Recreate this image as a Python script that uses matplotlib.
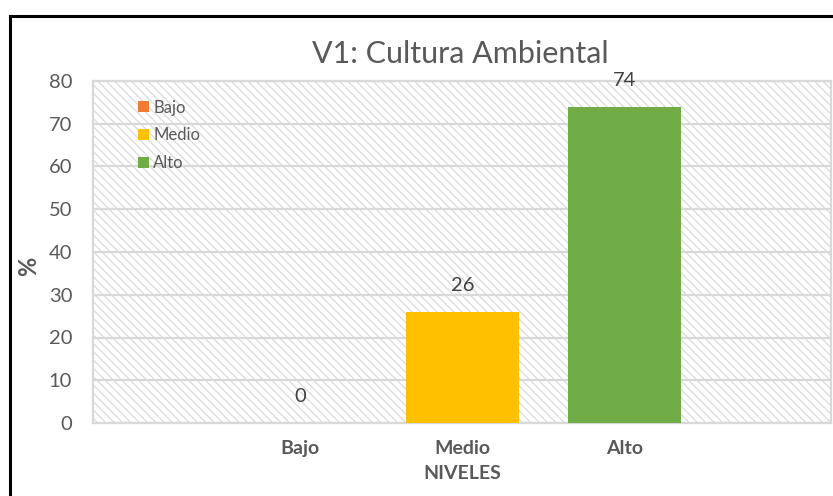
"""V1: Cultura Ambiental - bar chart by level."""

import matplotlib
matplotlib.use("Agg")
import matplotlib.pyplot as plt
from matplotlib.lines import Line2D
from matplotlib.patches import Rectangle

categories = ["Bajo", "Medio", "Alto"]
values = [0, 26, 74]
colors = ["#ED7D31", "#FFC000", "#70AD47"]
y_ticks = [0, 10, 20, 30, 40, 50, 60, 70, 80]

plt.rcParams["font.family"] = ["Lato", "DejaVu Sans"]
plt.rcParams["hatch.linewidth"] = 0.9
plt.rcParams["hatch.color"] = "#dadada"

W, H = 833, 496
fig = plt.figure(figsize=(W / 100, H / 100), dpi=100)
ax = fig.add_axes([93 / W, 1 - 423 / H, (831 - 93) / W, (423 - 81) / H])

# hatched plot background
bg = Rectangle((0, 0), 1, 1, transform=ax.transAxes, facecolor="white",
               edgecolor="#dadada", linewidth=0, hatch="\\\\\\\\", zorder=0)
ax.add_patch(bg)
ax.set_facecolor("white")

x = list(range(len(categories)))
bars = ax.bar(x, values, width=0.7, color=colors, zorder=3)
for b, lab in zip(bars, categories):
    b.set_label(lab)

ax.bar_label(bars, labels=[str(v) for v in values], padding=13,
             fontsize=14.5, color="#404040", zorder=4)

ax.set_xlim(-1.28, 3.275)
ax.set_ylim(0, 80)
ax.set_yticks(y_ticks)
ax.set_xticks(x)
ax.set_xticklabels(categories, fontweight="bold")
ax.tick_params(axis="y", length=0, pad=15, labelsize=14.5, labelcolor="#595959")
ax.tick_params(axis="x", length=0, pad=12, labelsize=14, labelcolor="#595959")

ax.grid(axis="y", color="#d9d9d9", linewidth=1.6, zorder=1)
ax.set_axisbelow(True)
for s in ax.spines.values():
    s.set_color("#d9d9d9")
    s.set_linewidth(1.6)

ax.set_xlabel("NIVELES", fontsize=14, fontweight="bold", color="#595959", labelpad=6)
ax.set_ylabel("%", fontsize=17, fontweight="bold", color="#595959")
ax.yaxis.set_label_coords(-0.072, 0.459)

ax.legend(loc="upper left", bbox_to_anchor=(0.052, 0.965), frameon=False,
          fontsize=12, handlelength=0.65, handleheight=0.65, handletextpad=0.25,
          labelspacing=0.7, labelcolor="#595959", borderaxespad=0)

fig.text(460 / W, 1 - 54 / H, "V1: Cultura Ambiental", ha="center", va="center",
         fontsize=22, color="#595959")

# black frame around the chart (left and top edges visible)
fig.add_artist(Line2D([9.5 / W, 9.5 / W], [0, 1 - 16 / H], color="black",
                      linewidth=2.2, transform=fig.transFigure))
fig.add_artist(Line2D([9.5 / W, 1], [1 - 16 / H, 1 - 16 / H], color="black",
                      linewidth=2.2, transform=fig.transFigure))

fig.savefig("out.png", dpi=100)
plt.close(fig)
